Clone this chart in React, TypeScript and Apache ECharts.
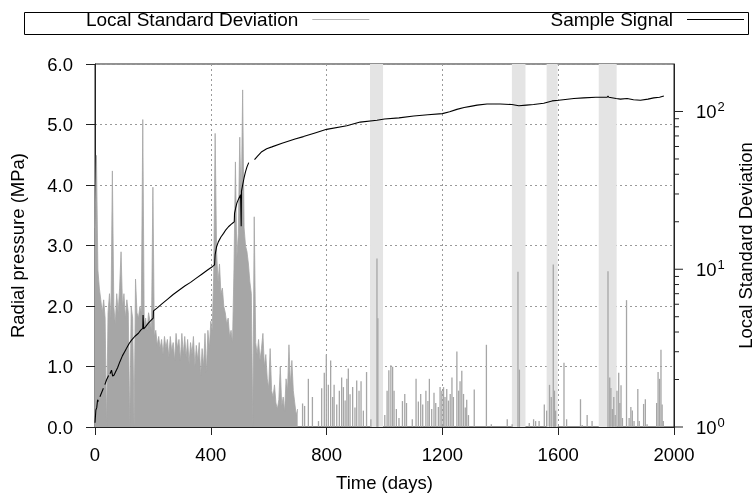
import React, { useEffect, useRef } from "react";
import * as echarts from "echarts";

const FONT = '"Liberation Sans", Arial, Helvetica, sans-serif';

// Local standard deviation, dense part: one sample every 5 days from day 0
const stdEarlyStep = 5;
const stdEarly = [
  18.3, 52.7, 9.9, 7.6, 6.4, 5.3, 6.4, 4.9,
  1, 5.3, 7.0, 4.9, 42.0, 5.8, 4.5, 7.0,
  5.3, 7.6, 12.9, 5.8, 7.0, 4.9, 6.4, 5.3,
  1, 5.8, 4.9, 1, 8.67, 5.3, 4.9, 5.8,
  5.3, 88.9, 4.5, 4.9, 4.1, 5.3, 4.68, 4.1,
  33.1, 3.75, 4.1, 3.29, 3.75, 3.14, 3.59, 2.88,
  3.75, 3.14, 3.59, 2.76, 3.75, 3.01, 3.43, 2.64,
  3.92, 3.14, 3.59, 2.64, 3.92, 2.88, 3.75, 2.76,
  3.59, 2.52, 3.43, 2.88, 3.75, 2.41, 3.29, 2.64,
  3.43, 2.12, 3.14, 2.41, 3.92, 2.21, 4.1, 3.14,
  4.68, 4.1, 9.06, 72.6, 12.9, 8.3, 10.8, 7.0,
  7.6, 5.8, 5.3, 4.5, 4.9, 3.75, 4.1, 3.43,
  9.9, 47.9, 11.8, 16.8, 68.7, 23.9, 137, 18.3,
  14.1, 12.9, 10.8, 8.3, 7.0, 1, 21.5, 3.43,
  2.88, 3.59, 2.64, 3.14, 3.92, 2.41, 2.88, 2.02,
  1.77, 3.14, 1.7, 1.55, 1.85, 1.42, 1.3, 1.49,
  2.41, 1.36, 1.55, 1.25, 2.02, 1.7, 3.32, 1.85,
  2.64, 1.7, 1.42, 1.19, 1.3,
];

// Local standard deviation, sparse part: individual impulses
const stdLateDays = [
  717, 724, 737, 751, 772, 783, 792, 799, 806, 814, 821, 826, 835, 844, 852, 858, 864, 870, 875, 881,
  890, 898, 904, 912, 919, 927, 938, 953, 974, 977, 1001, 1009, 1015, 1022, 1028, 1033, 1041, 1050,
  1062, 1070, 1076, 1096, 1109, 1117, 1125, 1132, 1143, 1150, 1155, 1163, 1171, 1177, 1186, 1192,
  1198, 1204, 1209, 1215, 1221, 1227, 1233, 1238, 1250, 1256, 1261, 1267, 1273, 1279, 1284, 1290,
  1310, 1352, 1369, 1424, 1441, 1461, 1466, 1500, 1515, 1522, 1534, 1552, 1560, 1570, 1576, 1583,
  1587, 1591, 1620, 1629, 1677, 1683, 1700, 1717, 1772, 1778, 1782, 1787, 1792, 1797, 1803, 1809,
  1813, 1817, 1822, 1836, 1845, 1851, 1856, 1862, 1875, 1880, 1895, 1901, 1907, 1940, 1945, 1950,
  1955, 1959, 1963,
];
const stdLateValues = [
  1.41, 1.36, 2.02, 1.55, 1.09, 1.76, 2.21, 2.88, 1.85, 2.64, 1.55, 1.85, 1.39, 1.7, 2.06, 1.79, 1.47, 2.02, 2.35, 1.61,
  1.79, 1.33, 1.97, 1.7, 1.95, 1.27, 2.23, 1.12, 11.7, 4.89, 1.19, 1.7, 2.29, 2.46, 2.41, 1.7, 1.3, 1.14,
  1.46, 1.62, 1.42, 1.12, 2.02, 1.45, 1.62, 1.39, 1.7, 1.46, 2.02, 1.3, 1.65, 1.42, 1.34, 1.79,
  1.7, 1.79, 1.55, 1.74, 1.47, 1.62, 2.06, 1.55, 3.01, 1.7, 1.95, 2.27, 1.62, 1.33, 1.49, 1.19,
  1.73, 3.32, 1.04, 1.12, 1.04, 9.64, 2.31, 1.06, 1.12, 1.09, 1.09, 1.39, 1.27, 1.85, 1.55, 10.7,
  1.7, 1.27, 2.55, 1.12, 1.5, 1.03, 1.19, 1.09, 9.7, 2.06, 1.77, 1.3, 1.55, 1.19, 1.7, 2.21,
  1.42, 1.84, 1.14, 6.37, 1.14, 1.34, 1.27, 1.09, 1.74, 1.09, 1.4, 1.5, 1.04, 1.42, 2.23, 2.02,
  3.09, 1.39, 1.09,
];

// Sample signal (MPa); null = gap in the record
const signalDays = [
  0, 3, 6, 9, 12, 14, 17, 23, 29, 31, 34, 40, 47, 49, 52, 57, 61, 66, 70, 78, 86, 95, 102, 109, 118,
  127, 138, 150, 158, 165, 166, 168, 175, 185, 195, 201, 202, 215, 230, 250, 270, 290, 310, 330, 350,
  370, 390, 405, 413, 415, 420, 426, 435, 444, 452, 461, 470, 478, 481, 482, 486, 490, 496, 503, 505,
  506, 510, 515, 520, 525, 531, 533, 551, 560, 576, 593, 611, 646, 691, 720, 760, 800, 870, 916, 974,
  1000, 1050, 1101, 1150, 1200, 1225, 1250, 1275, 1297, 1320, 1354, 1400, 1440, 1464, 1490, 1515,
  1550, 1579, 1602, 1654, 1688, 1730, 1769, 1772, 1775, 1800, 1815, 1838, 1860, 1884, 1910, 1930,
  1950, 1965,
];
const signalValues: (number | null)[] = [
  0.07, 0.28, 0.32, 0.45, 0.42, null, 0.5, 0.57, 0.64, null, 0.7, 0.78, 0.85, null, 0.88, 0.94, 0.84,
  0.86, 0.9, 0.98, 1.08, 1.18, 1.24, 1.3, 1.38, 1.44, 1.5, 1.55, 1.6, 1.63, 1.85, 1.62, 1.66, 1.72,
  1.77, 1.8, 1.92, 1.97, 2.03, 2.11, 2.19, 2.26, 2.33, 2.39, 2.46, 2.53, 2.6, 2.65, 2.68, 2.85, 2.98,
  3.06, 3.14, 3.2, 3.26, 3.31, 3.35, 3.38, 3.39, 3.53, 3.62, 3.7, 3.77, 3.84, 3.32, 3.9, 4.0, 4.12,
  4.22, 4.3, 4.37, null, 4.42, 4.47, 4.55, 4.6, 4.63, 4.69, 4.76, 4.8, 4.86, 4.92, 4.98, 5.04, 5.07,
  5.09, 5.11, 5.14, 5.16, 5.18, 5.21, 5.25, 5.28, 5.3, 5.32, 5.34, 5.34, 5.33, 5.31, 5.32, 5.33,
  5.35, 5.39, 5.4, 5.43, 5.44, 5.45, 5.45, 5.47, 5.45, 5.43, 5.42, 5.43, 5.41, 5.4, 5.42, 5.44,
  5.45, 5.47,
];

// Shaded intervals (days)
const bandStart = [950, 1440, 1560, 1740];
const bandEnd = [995, 1487, 1598, 1802];

// Right axis tick values (log scale)
const rightTickValues = [1, 2, 3, 4, 5, 6, 7, 8, 9, 10, 20, 30, 40, 50, 60, 70, 80, 90, 100];

const STD_NAME = "Local Standard Deviation";
const SIG_NAME = "Sample Signal";
const STD_COLOR = "#a6a6a6";

const isPow10 = (v: number) => {
  const e = Math.log10(v);
  return Math.abs(e - Math.round(e)) < 1e-6;
};

export default function App() {
  const ref = useRef<HTMLDivElement>(null);

  useEffect(() => {
    const chart = echarts.init(ref.current!, null, { renderer: "svg" });

    const stdDense = stdEarly.map((v, i) => [i * stdEarlyStep, v]);
    const stdSparse = stdLateDays.map((d, i) => [d, stdLateValues[i]]);
    const signalData = signalDays.map((d, i) => [d, signalValues[i] === null ? "-" : signalValues[i]]);

    const axisColor = "#222";
    const gridLine = { show: true, lineStyle: { color: "#9a9a9a", width: 1, type: [2, 3] as any } };
    const legendCommon = {
      top: 10,
      padding: 0,
      align: "right",
      icon: "rect",
      itemWidth: 57,
      itemHeight: 1,
      selectedMode: false,
      textStyle: { fontSize: 19, color: "#000", fontFamily: FONT, padding: [0, 9, 0, 0] },
    };

    chart.setOption({
      animation: false,
      textStyle: { fontFamily: FONT },
      grid: {
        left: 95,
        right: 81,
        top: 64,
        bottom: 68,
        outerBoundsMode: "none",
        containLabel: false,
        show: true,
        borderColor: axisColor,
        borderWidth: 1,
      },
      graphic: [
        {
          type: "rect",
          left: 22,
          top: 10,
          shape: { width: 724, height: 22 },
          style: { fill: "none", stroke: "#000", lineWidth: 1 },
          silent: true,
        },
      ],
      legend: [
        { ...legendCommon, left: 86, data: [{ name: STD_NAME, itemStyle: { color: "#b8b8b8" } }] },
        { ...legendCommon, right: 11, data: [{ name: SIG_NAME, itemStyle: { color: "#000" } }] },
      ],
      xAxis: {
        type: "value",
        min: 0,
        max: 2000,
        interval: 400,
        name: "Time (days)",
        nameLocation: "middle",
        nameGap: 46,
        nameTextStyle: { fontSize: 18.5, color: "#000", fontFamily: FONT },
        axisLine: { lineStyle: { color: axisColor, width: 1 } },
        axisTick: { show: true, length: 8, lineStyle: { color: axisColor } },
        axisLabel: {
          fontSize: 18.5,
          color: "#000",
          margin: 18,
          fontFamily: FONT,
          formatter: (v: number) => String(v),
        },
        splitLine: gridLine,
      },
      yAxis: [
        {
          type: "value",
          position: "left",
          min: 0,
          max: 6,
          interval: 1,
          name: "Radial pressure (MPa)",
          nameLocation: "middle",
          nameGap: 68,
          nameRotate: 90,
          nameTextStyle: { fontSize: 18.5, color: "#000", fontFamily: FONT },
          axisLine: { show: true, lineStyle: { color: axisColor, width: 1 } },
          axisTick: { show: true, length: 9, lineStyle: { color: axisColor } },
          axisLabel: {
            fontSize: 18.5,
            color: "#000",
            margin: 22,
            fontFamily: FONT,
            formatter: (v: number) => v.toFixed(1),
          },
          splitLine: gridLine,
        },
        {
          type: "log",
          logBase: 10,
          position: "right",
          min: 1,
          max: 200,
          name: STD_NAME,
          nameLocation: "middle",
          nameGap: 58,
          nameRotate: 90,
          nameTextStyle: { fontSize: 18.5, color: "#000", fontFamily: FONT },
          axisLine: { show: true, lineStyle: { color: axisColor, width: 1 } },
          axisTick: { show: false },
          axisLabel: {
            margin: 22,
            formatter: (v: number) => (isPow10(v) ? `{b|10}{s|${Math.round(Math.log10(v))}}` : ""),
            rich: {
              b: { fontSize: 18.5, color: "#000", fontFamily: FONT },
              s: { fontSize: 13, color: "#000", fontFamily: FONT, padding: [0, 0, 10, 1] },
            },
          },
          splitLine: { show: false },
        },
      ],
      series: [
        {
          type: "line",
          name: "bands",
          data: [],
          z: 1,
          silent: true,
          markArea: {
            silent: true,
            itemStyle: { color: "#e4e4e4" },
            data: bandStart.map((s, i) => [{ xAxis: s }, { xAxis: bandEnd[i] }]),
          },
        },
        {
          type: "line",
          name: STD_NAME,
          yAxisIndex: 1,
          data: stdDense,
          showSymbol: false,
          lineStyle: { color: STD_COLOR, width: 0.8 },
          itemStyle: { color: STD_COLOR },
          areaStyle: { color: STD_COLOR, opacity: 1, origin: "start" },
          z: 2,
          silent: true,
        },
        {
          type: "bar",
          name: STD_NAME,
          yAxisIndex: 1,
          data: stdSparse,
          barWidth: 1.3,
          barMinWidth: 1.3,
          itemStyle: { color: STD_COLOR },
          z: 2,
          silent: true,
        },
        {
          type: "line",
          name: SIG_NAME,
          yAxisIndex: 0,
          data: signalData,
          showSymbol: false,
          connectNulls: false,
          lineStyle: { color: "#000", width: 1.1 },
          itemStyle: { color: "#000" },
          z: 3,
          silent: true,
        },
        {
          type: "custom",
          name: "rightTicks",
          xAxisIndex: 0,
          yAxisIndex: 1,
          clip: false,
          silent: true,
          z: 4,
          data: rightTickValues.map((v) => [0, v]),
          renderItem: (params: any, api: any) => {
            const v = api.value(1);
            const y = api.coord([0, v])[1];
            const cs = params.coordSys;
            const x = cs.x + cs.width;
            return {
              type: "line",
              shape: { x1: x, y1: y, x2: x + (isPow10(v) ? 9 : 5), y2: y },
              style: { stroke: axisColor, lineWidth: 1 },
            };
          },
        },
      ],
    });

    return () => chart.dispose();
  }, []);

  return <div ref={ref} style={{ position: "fixed", left: 0, top: 0, width: 755, height: 495 }} />;
}
